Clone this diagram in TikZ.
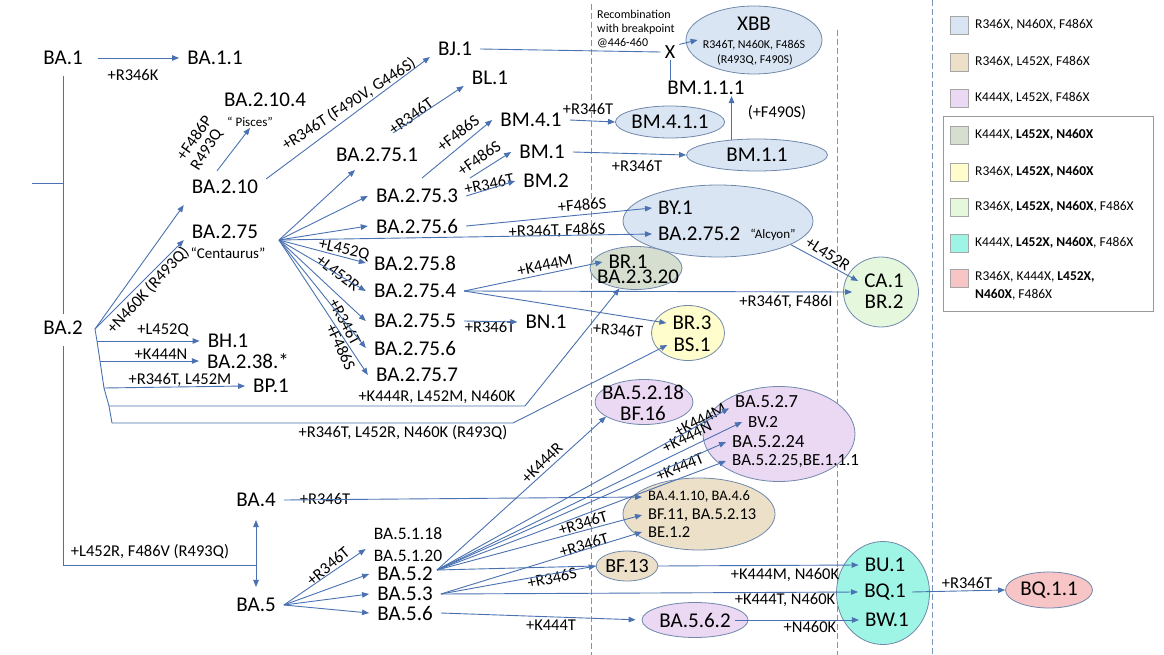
\documentclass[tikz,border=0pt]{standalone}
\usepackage{fontspec}
\setmainfont{Carlito}
\usetikzlibrary{arrows.meta,shapes.geometric}
\definecolor{lineblue}{HTML}{4A72B2}
\definecolor{rimblue}{HTML}{7088AC}
\definecolor{dashblue}{HTML}{7C94B8}
\definecolor{cblue}{HTML}{DAE5F3}
\definecolor{ctan}{HTML}{ECE1C8}
\definecolor{clav}{HTML}{EBD8F2}
\definecolor{cgg}{HTML}{D6DECF}
\definecolor{cyel}{HTML}{FFFDCB}
\definecolor{cpg}{HTML}{E5F7DC}
\definecolor{ccyan}{HTML}{9FF5E5}
\definecolor{cpink}{HTML}{F7C5C5}
\begin{document}
\begin{tikzpicture}[x=1pt,y=-1pt,
    big/.style={font=\fontsize{21}{22}\selectfont, inner xsep=8pt, inner ysep=1pt},
    intext/.style={font=\fontsize{21}{22}\selectfont, inner xsep=6pt, inner ysep=0pt},
    mut/.style={font=\fontsize{16.5}{18}\selectfont, inner sep=1pt},
    smalltxt/.style={font=\fontsize{12}{14}\selectfont, inner sep=0pt},
    legtext/.style={font=\fontsize{13.5}{18}\selectfont, inner sep=0pt, anchor=west},
    oval/.style={ellipse, draw=rimblue, line width=0.8pt, inner sep=0pt, font=\fontsize{21}{22}\selectfont},
    ln/.style={draw=lineblue, line width=0.9pt},
    arr/.style={ln, -{Triangle[length=7pt,width=5.5pt]}},
    divider/.style={draw=dashblue, line width=0.7pt, dash pattern=on 6pt off 3pt},
    swatch/.style={draw=gray!70, line width=0.6pt}]
    \fill[white] (0,0) rectangle (1164,655);
    \useasboundingbox (0,0) rectangle (1164,655);
    \draw[divider] (591,4) -- (591,655);
    \draw[divider] (837,30) -- (837,655);
    \draw[divider] (932,0) -- (932,655);
    % legend
    \foreach \y/\c/\t [count=\i] in {25/cblue/{R346X, N460X, F486X}, 62/ctan/{R346X, L452X, F486X}, 98/clav/{K444X, L452X, F486X}, 135/cgg/{K444X, \textbf{L452X, N460X}}, 172/cyel/{R346X, \textbf{L452X, N460X}}, 207/cpg/{R346X, \textbf{L452X, N460X}, F486X}, 243/ccyan/{K444X, \textbf{L452X, N460X}, F486X}} {
        \draw[swatch, fill=\c] (950,\y-9) rectangle (968,\y+9);
        \node[legtext] (leg\i) at (975,\y) {\t};
    }
    \draw[swatch, fill=cpink] (950,269) rectangle (968,287);
    \node[legtext, anchor=north west, align=left] (leg8) at (975,271) {R346X, K444X, \textbf{L452X,}\\\textbf{N460X}, F486X};
    \draw[gray!80, line width=0.7pt] (943,116) rectangle (1153,311);
    % ovals
    \node[oval, fill=cblue, minimum width=136pt, minimum height=68pt] (xbb) at (754,40) {};
    \node[big] (xbbname) at (754,24) {XBB};
    \node[smalltxt] (xbbmut) at (754,45) {R346T, N460K, F486S};
    \node[smalltxt] (xbbopt) at (755,60) {(R493Q, F490S)};
    \node[oval, fill=cblue, minimum width=100pt, minimum height=32pt] (bm411) at (670,122) {BM.4.1.1};
    \node[oval, fill=cblue, minimum width=141pt, minimum height=32pt] (bm11) at (757,155) {BM.1.1};
    \node[oval, fill=cblue, minimum width=190pt, minimum height=72pt] (by) at (718,221) {};
    \node[intext, anchor=west] (by1) at (652,208) {BY.1};
    \node[intext, anchor=west] (ba2752) at (652,234) {BA.2.75.2};
    \node[font=\fontsize{13}{14}\selectfont, inner sep=1pt] (alcyon) at (773,235) {“Alcyon”};
    \node[oval, fill=cgg, minimum width=92pt, minimum height=43pt] (br) at (636,268) {};
    \node[intext] (br1) at (628,262) {BR.1};
    \node[intext] (ba2320) at (638,277) {BA.2.3.20};
    \node[oval, fill=cyel, minimum width=73pt, minimum height=55pt] (brs) at (688,333) {};
    \node[intext] (br3) at (692,323) {BR.3};
    \node[intext] (bs1) at (692,345) {BS.1};
    \node[oval, fill=cpg, minimum width=75pt, minimum height=70pt] (ca) at (881,292) {};
    \node[intext] (ca1) at (884,281) {CA.1};
    \node[intext] (br2) at (884,302) {BR.2};
    \node[oval, fill=clav, minimum width=98pt, minimum height=45pt] (bf) at (644,402) {};
    \node[intext] (ba5218) at (643,392) {BA.5.2.18};
    \node[intext] (bf16) at (643,413) {BF.16};
    \node[oval, fill=clav, minimum width=152pt, minimum height=95pt] (bv) at (779,434) {};
    \node[intext, anchor=west, font=\fontsize{18.5}{20}\selectfont] (ba527) at (729,402) {BA.5.2.7};
    \node[intext, anchor=west, font=\fontsize{17}{18}\selectfont] (bv2) at (742,422) {BV.2};
    \node[intext, anchor=west, font=\fontsize{18.5}{20}\selectfont] (ba5224) at (726,442) {BA.5.2.24};
    \node[intext, anchor=west, font=\fontsize{17}{18}\selectfont] (ba5225) at (726,461) {BA.5.2.25,BE.1.1.1};
    \node[oval, fill=ctan, minimum width=152pt, minimum height=72pt] (bfe) at (699,514) {};
    \node[intext, anchor=west, font=\fontsize{14.5}{16}\selectfont] (ba4110) at (642,497) {BA.4.1.10, BA.4.6};
    \node[intext, anchor=west, font=\fontsize{16.5}{18}\selectfont] (bf11) at (642,515) {BF.11, BA.5.2.13};
    \node[intext, anchor=west, font=\fontsize{16.5}{18}\selectfont] (be12) at (642,532) {BE.1.2};
    \node[oval, fill=ctan, minimum width=60pt, minimum height=30pt, font=\fontsize{20}{22}\selectfont] (bf13) at (627,566) {BF.13};
    \node[oval, fill=ccyan, minimum width=93pt, minimum height=103pt] (bq) at (883,593) {};
    \node[intext] (bu1) at (885,565) {BU.1};
    \node[intext] (bq1) at (885,592) {BQ.1};
    \node[intext] (bw1) at (887,620) {BW.1};
    \node[oval, fill=clav, minimum width=106pt, minimum height=35pt] (ba562) at (695,620) {BA.5.6.2};
    \node[oval, fill=cpink, minimum width=87pt, minimum height=36pt] (bq11) at (1049,590) {BQ.1.1};
    % lineages
    \node[big] (ba1) at (63,58) {BA.1};
    \node[big] (ba11) at (215,58) {BA.1.1};
    \node[big] (ba2104) at (265,100) {BA.2.10.4};
    \node[font=\fontsize{13}{14}\selectfont, inner sep=1pt] (pisces) at (250,122) {“ Pisces”};
    \node[big] (ba210) at (225,187) {BA.2.10};
    \node[big] (ba275) at (225,232) {BA.2.75};
    \node[font=\fontsize{15}{16}\selectfont, inner sep=1pt] (centaurus) at (228,253) {“Centaurus”};
    \node[big] (bj1) at (455,49) {BJ.1};
    \node[big] (bl1) at (490,78) {BL.1};
    \node[big] (ba2751) at (377,155) {BA.2.75.1};
    \node[big] (ba2753) at (417,196) {BA.2.75.3};
    \node[big] (bm41) at (531,120) {BM.4.1};
    \node[big] (bm1) at (542,152) {BM.1};
    \node[big] (bm2) at (546,181) {BM.2};
    \node[big] (ba2756a) at (417,226) {BA.2.75.6};
    \node[big] (ba2758) at (415,263) {BA.2.75.8};
    \node[big] (ba2754) at (415,291) {BA.2.75.4};
    \node[big] (ba2755) at (415,321) {BA.2.75.5};
    \node[big] (bn1) at (546,322) {BN.1};
    \node[big] (ba2756b) at (415,348) {BA.2.75.6};
    \node[big] (ba2757) at (417,375) {BA.2.75.7};
    \node[big] (ba2) at (63,328) {BA.2};
    \node[big] (bh1) at (228,341) {BH.1};
    \node[big] (ba238) at (248,361) {BA.2.38.*};
    \node[big] (bp1) at (271,386) {BP.1};
    \node[big] (ba4) at (256,500) {BA.4};
    \node[big] (ba5) at (256,605) {BA.5};
    \node[big, font=\fontsize{17.5}{18}\selectfont] (ba5118) at (408,534) {BA.5.1.18};
    \node[big, font=\fontsize{17.5}{18}\selectfont] (ba5120) at (408,556) {BA.5.1.20};
    \node[big] (ba52) at (405,574) {BA.5.2};
    \node[big] (ba53) at (405,594) {BA.5.3};
    \node[big] (ba56) at (405,613) {BA.5.6};
    \node[big] (bm111) at (706,88) {BM.1.1.1};
    \node[big, font=\fontsize{20}{22}\selectfont, inner xsep=4pt] (xx) at (670,52) {X};
    \node[smalltxt, align=left, anchor=north west] (recomb) at (597,10) {Recombination\\with breakpoint\\@446-460};
    % mutations
    \foreach \x/\y/\r/\t [count=\i] in {133/75/0/{+R346K}, 194/138/55/{+F486P}, 207/150/58/{R493Q}, 349/104/33/{+R346T (F490V, G446S)}, 411/116/36/{+R346T}, 458/133/38/{+F486S}, 479/158/35/{+F486S}, 489/184/12/{+R346T}, 588/109/0/{+R346T}, 637/166/0/{+R346T}, 777/113/0/{(+F490S)}, 582/205/5/{+F486S}, 557/231/2/{+R346T, F486S}, 344/250/-12/{+L452Q}, 338/273/-37/{+L452R}, 345/322/-62/{+R346T}, 341/347/-65/{+F486S}, 490/327/0/{+R346T}, 545/265/12/{+K444M}, 786/302/0/{+R346T, F486I}, 618/330/-4/{+R346T}, 828/254/-33/{+L452R}, 148/290/47/{+N460K (R493Q)}, 163/330/0/{+L452Q}, 161/354/0/{+K444N}, 180/380/0/{+R346T, L452M}, 437/397/0/{+K444R, L452M, N460K}, 403/433/0/{+R346T, L452R, N460K (R493Q)}, 150/552/0/{+L452R, F486V (R493Q)}, 325/499/0/{+R346T}, 328/566/40/{+R346T}, 542/463/45/{+K444R}, 700/420/28/{+K444M}, 687/437/26/{+K444N}, 680/467/22/{+K444T}, 583/523/17/{+R346T}, 584/545/17/{+R346T}, 552/578/12/{+R346S}, 785/575/0/{+K444M, N460K}, 785/600/0/{+K444T, N460K}, 551/625/0/{+K444T}, 810/627/0/{+N460K}, 967/583/0/{+R346T}} {
        \node[mut, rotate=\r] (m\i) at (\x,\y) {\t};
    }
    \coordinate (h2) at (95,329);
    \coordinate (s1) at (97,341);
    \coordinate (s2) at (100,361);
    \coordinate (s3) at (104,388);
    \coordinate (s4) at (109,406);
    \coordinate (h2b) at (112,423);
    \coordinate (h275) at (279,240);
    \coordinate (h52) at (437,570);
    \coordinate (j45) at (256,565);
    \coordinate (t2751) at (355,170);
    \coordinate (f2751) at (393,133);
    \coordinate (f2753) at (422,178);
    \coordinate (g2753) at (470,178);
    % connectors
    \draw[ln, shorten <=10pt, shorten >=6pt] (ba1.south) -- (ba2.north);
    \draw[ln] (32,183) -- (63,183);
    \draw[ln, shorten <=10pt] (ba2.south) |- (j45);
    \draw[ln, {Triangle[length=7pt,width=5.5pt]}-{Triangle[length=7pt,width=5.5pt]}, shorten <=12pt, shorten >=10pt] (ba4.south) -- (ba5.north);
    \draw[arr, shorten <=7pt] (ba1.east) -- (ba11.west);
    \draw[ln] (h2) -- (s1) -- (s2) -- (s3) -- (s4) -- (h2b);
    \draw[arr] (h2) -- ([yshift=-10pt]ba210.south west);
    \draw[arr] (h2) -- (ba275.south west);
    \draw[arr] (s1) -- (bh1.west);
    \draw[arr] (s2) -- (ba238.west);
    \draw[arr] (s3) -- (bp1.west);
    \draw[arr] (s4) -- (525,406) -- (br.231);
    \draw[arr] (h2b) -- (513,423) -- (bs1.west);
    \draw[arr] ([xshift=-8pt,yshift=8pt]ba210.north) -- (pisces.south);
    \draw[arr] (ba210.north east) -- (bj1.south west);
    \draw[arr] (h275) -- (t2751);
    \foreach \n in {ba2753, ba2756a, ba2758, ba2754, ba2755, ba2756b, ba2757, ba2752}
        \draw[arr] (h275) -- (\n.west);
    \draw[arr] (f2751) -- (bl1.south west);
    \draw[arr] (f2753) -- (bm41.west);
    \draw[arr] (g2753) -- (bm1.west);
    \draw[arr] (ba2753.east) -- (bm2.west);
    \draw[arr] (bm41.east) -- (bm411.west);
    \draw[arr] (bm1.east) -- (bm11.west);
    \draw[arr] (bm11.149) -- (bm11.149 |- bm111.south);
    \draw[ln] (xx.south) -- (xx.south |- bm111.north);
    \draw[ln] (bj1.east) -- (xx.west);
    \draw[arr] (xx.north east) -- ([xshift=12pt]xbb.west);
    \draw[arr] (ba2756a.east) -- (by1.west);
    \draw[arr] (ba2754.east) -- (br1.west);
    \draw[arr] (ba2754.east) -- ([xshift=9pt]ca.west);
    \draw[arr] (ba2754.east) -- (br3.west);
    \draw[arr] (ba2755.east) -- (bn1.west);
    \draw[arr] (by.-18) -- (ca1.west);
    \draw[arr] (ba4.east) -- (ba4110.west);
    \draw[arr] (ba5.east) -- (ba5120.north west);
    \foreach \n in {ba52, ba53, ba56}
        \draw[arr] (ba5.east) -- (\n.west);
    \draw[arr] (h52) -- (bf.201);
    \foreach \n in {ba527.south west, bv2.west, ba5224.west, ba5225.west, bf11.west}
        \draw[arr] (h52) -- (\n);
    \draw[ln] (h52) -- (bf13.west);
    \draw[arr] (bf13.east) -- (bu1.west);
    \draw[arr] (ba53.east) -- (be12.west);
    \draw[arr] (ba53.east) -- (bf13.west);
    \draw[arr] (ba53.east) -- (bq1.west);
    \draw[arr, shorten >=6pt] (ba56.east) -- (ba562.west);
    \draw[arr] ([xshift=-13pt]ba562.east) -- (bw1.west);
    \draw[arr] (bq1.east) -- (bq11.west);
\end{tikzpicture}
\end{document}
